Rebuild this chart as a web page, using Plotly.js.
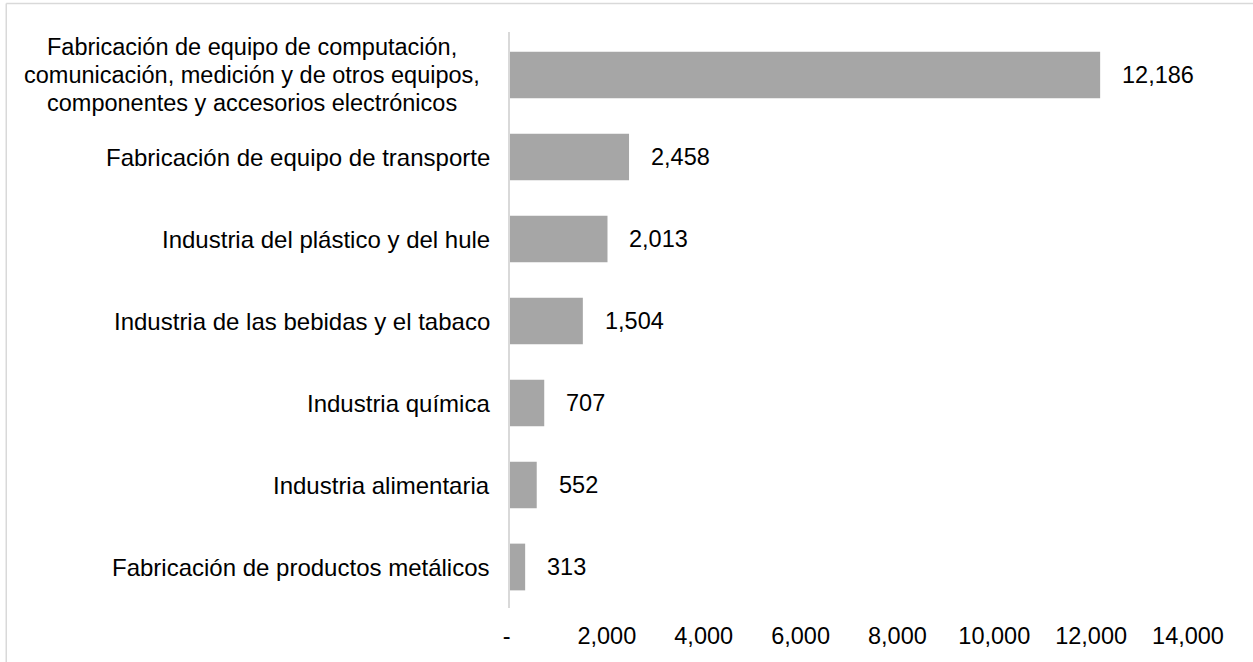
<!DOCTYPE html>
<html>
<head>
<meta charset="utf-8">
<script src="https://cdn.plot.ly/plotly-3.0.1.min.js"></script>
<style>
  html, body { margin: 0; padding: 0; background: #ffffff; }
  #chart { width: 1253px; height: 662px; }
</style>
</head>
<body>
<div id="chart"></div>
<script>
const categories = [
  "Fabricación de equipo de computación,<br>comunicación, medición y de otros equipos,<br>componentes y accesorios electrónicos",
  "Fabricación de equipo de transporte",
  "Industria del plástico y del hule",
  "Industria de las bebidas y el tabaco",
  "Industria química",
  "Industria alimentaria",
  "Fabricación de productos metálicos"
];
const values = [12186, 2458, 2013, 1504, 707, 552, 313];
const tickValues = [0, 2000, 4000, 6000, 8000, 10000, 12000, 14000];
const tickLabels = ["-\u00a0", "2,000", "4,000", "6,000", "8,000", "10,000", "12,000", "14,000"];

const FONT = "'Liberation Sans', Arial, sans-serif";
const FS = 23.5;
const FS_CAT = 24;
const LINE = 28;

const yKeys = categories.map((c, i) => "c" + i);

const trace = {
  type: "bar",
  orientation: "h",
  x: values,
  y: yKeys,
  marker: { color: "#a6a6a6" },
  hoverinfo: "skip"
};

const annotations = [];
categories.forEach((c, i) => {
  const lines = c.split("<br>");
  if (lines.length > 1) {
    lines.forEach((ln, j) => {
      annotations.push({
        xref: "paper", yref: "y",
        x: 0, y: yKeys[i],
        xanchor: "center", yanchor: "middle",
        xshift: -258,
        yshift: ((lines.length - 1) / 2 - j) * LINE,
        text: ln,
        showarrow: false,
        font: { family: FONT, size: FS, color: "#000000" }
      });
    });
  } else {
    annotations.push({
      xref: "paper", yref: "y",
      x: 0, y: yKeys[i],
      xanchor: "right", yanchor: "middle",
      xshift: -18,
      text: c,
      showarrow: false,
      font: { family: FONT, size: FS_CAT, color: "#000000" }
    });
  }
  annotations.push({
    xref: "x", yref: "y",
    x: values[i], y: yKeys[i],
    xanchor: "left", yanchor: "middle",
    xshift: 20,
    text: values[i].toLocaleString("en-US"),
    showarrow: false,
    font: { family: FONT, size: FS, color: "#000000" }
  });
});

const layout = {
  width: 1253,
  height: 662,
  margin: { l: 510, r: 65, t: 32, b: 54 },
  paper_bgcolor: "#ffffff",
  plot_bgcolor: "#ffffff",
  showlegend: false,
  bargap: 0.43,
  font: { family: FONT, size: FS, color: "#000000" },
  xaxis: {
    range: [0, 14000],
    tickvals: tickValues,
    ticktext: tickLabels,
    showgrid: false,
    zeroline: false,
    showline: false,
    ticks: "",
    ticklabelstandoff: 11,
    tickfont: { family: FONT, size: FS, color: "#000000" },
    fixedrange: true
  },
  yaxis: {
    type: "category",
    autorange: "reversed",
    showticklabels: false,
    showgrid: false,
    zeroline: false,
    showline: true,
    linecolor: "#d9d9d9",
    linewidth: 2,
    ticks: "",
    fixedrange: true
  },
  annotations: annotations,
  shapes: [
    { type: "line", xref: "paper", yref: "paper", x0: -0.743, x1: 2, y0: 1.0495, y1: 1.0495,
      line: { color: "#d9d9d9", width: 1.5 } },
    { type: "line", xref: "paper", yref: "paper", x0: -0.743, x1: -0.743, y0: 1.0495, y1: -0.3,
      line: { color: "#d9d9d9", width: 1.5 } }
  ]
};

Plotly.newPlot("chart", [trace], layout, { displayModeBar: false, staticPlot: true });
</script>
</body>
</html>
